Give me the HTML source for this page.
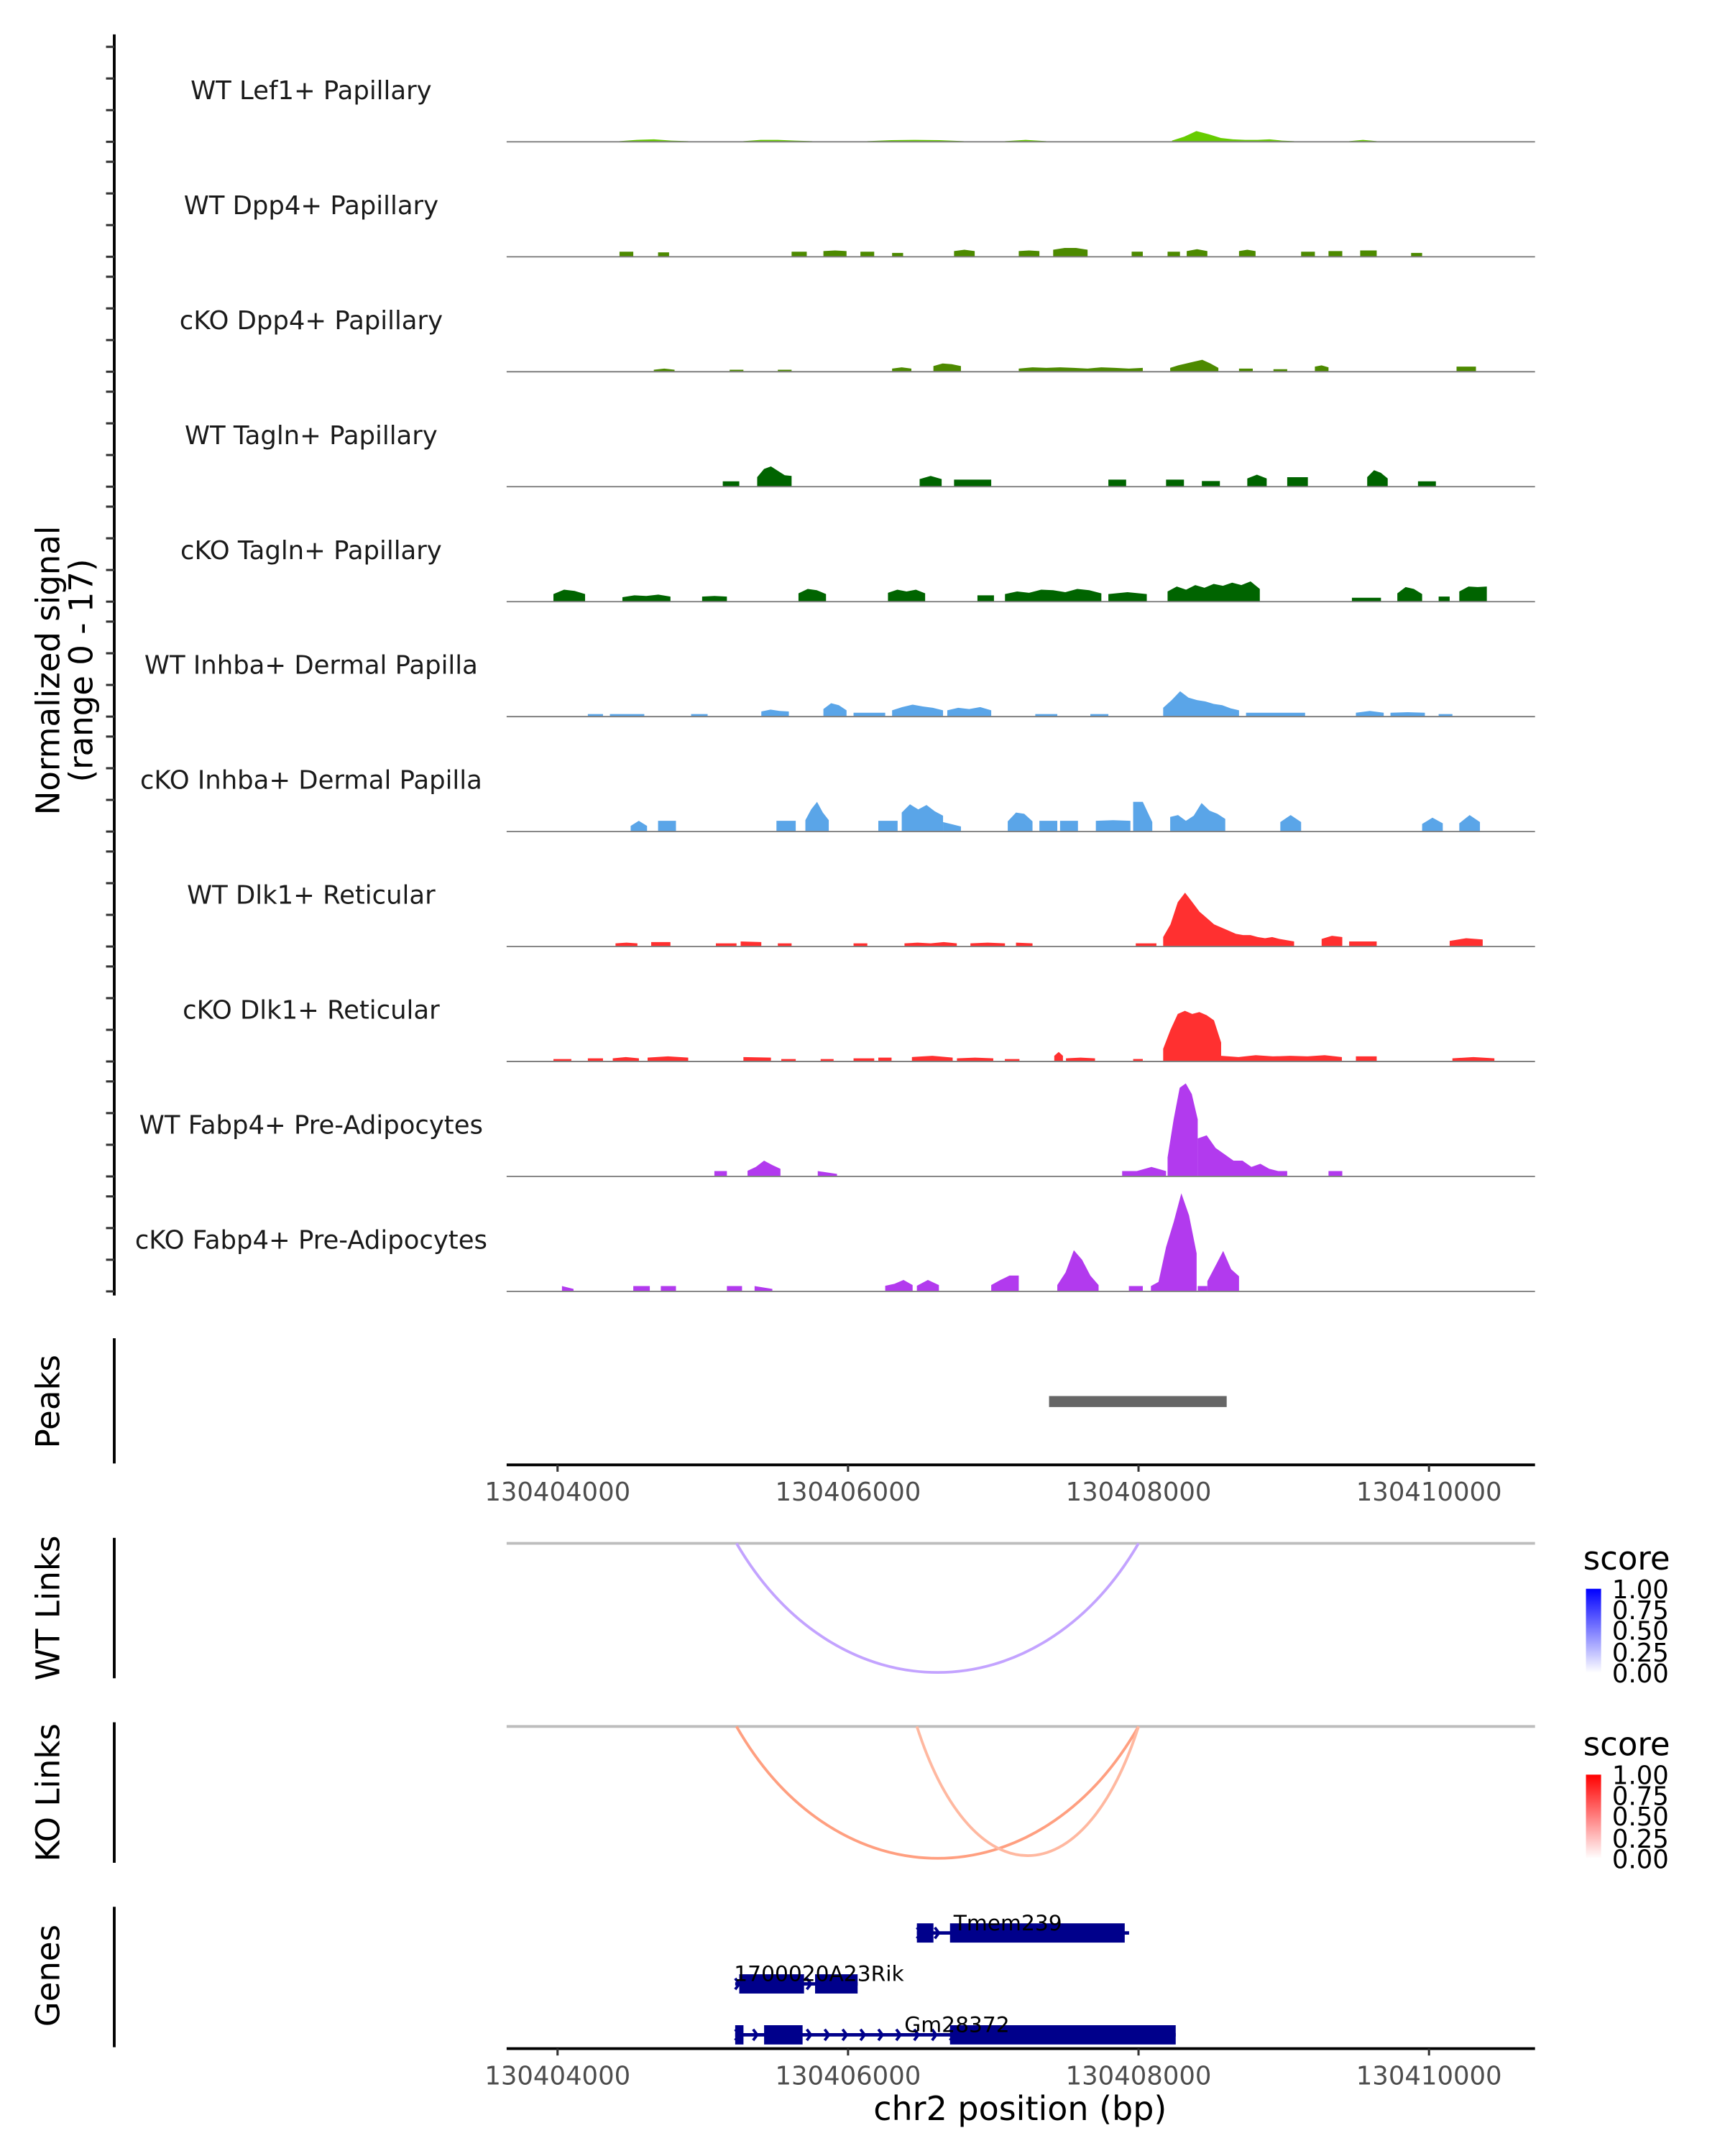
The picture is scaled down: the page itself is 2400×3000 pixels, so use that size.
<!DOCTYPE html>
<html><head><meta charset="utf-8"><style>
html,body{margin:0;padding:0;background:#fff;}
svg{display:block;font-family:"DejaVu Sans","Liberation Sans",sans-serif;}
</style></head><body>
<svg id="chart" xmlns="http://www.w3.org/2000/svg" width="2400" height="3000" viewBox="0 0 1253 1566" preserveAspectRatio="none">
<defs>
<linearGradient id="gBlue" x1="0" y1="1" x2="0" y2="0"><stop offset="0" stop-color="#ffffff"/><stop offset="1" stop-color="#0000ff"/></linearGradient>
<linearGradient id="gRed" x1="0" y1="1" x2="0" y2="0"><stop offset="0" stop-color="#ffffff"/><stop offset="1" stop-color="#ff0000"/></linearGradient>
</defs>
<g id="tracks"></g>
<line x1="83" y1="25" x2="83" y2="941" stroke="#000" stroke-width="2"/>
<g id="yticks"></g>
<text transform="translate(43,487) rotate(-90)" text-anchor="middle" font-size="23.5">Normalized signal</text>
<text transform="translate(67,487) rotate(-90)" text-anchor="middle" font-size="23.5">(range 0 - 17)</text>

<line x1="83" y1="972" x2="83" y2="1063" stroke="#000" stroke-width="2"/>
<text transform="translate(43,1018) rotate(-90)" text-anchor="middle" font-size="23.5">Peaks</text>
<g id="peaks"></g>
<g id="xaxis1"></g>

<line x1="83" y1="1117" x2="83" y2="1219" stroke="#000" stroke-width="2"/>
<text transform="translate(43,1168) rotate(-90)" text-anchor="middle" font-size="23.5">WT Links</text>
<line x1="368" y1="1121" x2="1115" y2="1121" stroke="#bdbdbd" stroke-width="2"/>
<g id="wtlinks"></g>

<line x1="83" y1="1251" x2="83" y2="1353" stroke="#000" stroke-width="2"/>
<text transform="translate(43,1302) rotate(-90)" text-anchor="middle" font-size="23.5">KO Links</text>
<line x1="368" y1="1254" x2="1115" y2="1254" stroke="#bdbdbd" stroke-width="2"/>
<g id="kolinks"></g>

<g>
<text x="1150" y="1140" font-size="23.5">score</text>
<rect x="1152" y="1154" width="11" height="61" fill="url(#gBlue)"/>
<g font-size="18.5" fill="#000">
<text x="1171" y="1161">1.00</text><text x="1171" y="1176">0.75</text><text x="1171" y="1191">0.50</text><text x="1171" y="1207">0.25</text><text x="1171" y="1222">0.00</text></g>
</g>
<g>
<text x="1150" y="1275" font-size="23.5">score</text>
<rect x="1152" y="1289" width="11" height="61" fill="url(#gRed)"/>
<g font-size="18.5" fill="#000">
<text x="1171" y="1296">1.00</text><text x="1171" y="1311">0.75</text><text x="1171" y="1326">0.50</text><text x="1171" y="1342">0.25</text><text x="1171" y="1357">0.00</text></g>
</g>

<line x1="83" y1="1385" x2="83" y2="1487" stroke="#000" stroke-width="2"/>
<text transform="translate(43,1435) rotate(-90)" text-anchor="middle" font-size="23.5">Genes</text>
<g id="genes"></g>
<g id="xaxis2"></g>
<text x="741" y="1540" text-anchor="middle" font-size="24">chr2 position (bp)</text>
</svg>
<script>
// positions are bp offsets from chr2:130,400,000 ; values in normalized signal units
const trackNames = ["WT Lef1+ Papillary","WT Dpp4+ Papillary","cKO Dpp4+ Papillary","WT Tagln+ Papillary","cKO Tagln+ Papillary","WT Inhba+ Dermal Papilla","cKO Inhba+ Dermal Papilla","WT Dlk1+ Reticular","cKO Dlk1+ Reticular","WT Fabp4+ Pre-Adipocytes","cKO Fabp4+ Pre-Adipocytes"];
const trackColors = ["#66cc00","#4d8a00","#4d8a00","#006400","#006400","#5aa5e8","#5aa5e8","#ff3030","#ff3030","#b23aee","#b23aee"];
const sigLef1 = [[4427,4900,[0.1,0.3,0.4,0.2,0.1]],[5280,5754,[0.1,0.3,0.3,0.2,0.1]],[6133,6796,[0.1,0.25,0.3,0.25,0.1]],[7081,7365,[0.1,0.3,0.1]],[8230,9071,[0.2,0.8,1.7,1.2,0.6,0.4,0.3,0.3,0.4,0.2,0.1]],[9450,9640,[0.1,0.3,0.1]]];
const sigWtDpp4 = [[4427,4521,[0.8,0.8]],[4692,4768,[0.7,0.7]],[5611,5716,[0.8,0.8]],[5830,5990,[0.9,1,0.9]],[6085,6180,[0.8,0.8]],[6303,6379,[0.6,0.6]],[6730,6872,[0.9,1.1,0.9]],[7175,7318,[0.9,1,0.9]],[7412,7649,[1.1,1.4,1.4,1.1]],[7953,8029,[0.8,0.8]],[8200,8285,[0.8,0.8]],[8332,8474,[0.9,1.2,0.9]],[8692,8806,[0.9,1.1,0.9]],[9119,9214,[0.8,0.8]],[9308,9403,[0.9,0.9]],[9526,9640,[1,1]],[9877,9953,[0.6,0.6]]];
const sigKoDpp4 = [[4663,4806,[0.3,0.5,0.3]],[5185,5280,[0.3,0.3]],[5517,5611,[0.3,0.3]],[6303,6436,[0.5,0.7,0.5]],[6588,6777,[0.9,1.3,1.2,0.9]],[7175,8029,[0.5,0.7,0.6,0.7,0.6,0.5,0.7,0.6,0.5,0.6]],[8218,8550,[0.6,1.0,1.3,1.6,1.9,1.3,0.6]],[8692,8787,[0.5,0.5]],[8929,9024,[0.4,0.4]],[9214,9308,[0.8,1.0,0.7]],[10190,10323,[0.8,0.8]]];
const sigWtTagln = [[5137,5251,[0.85,0.85]],[5374,5611,[1.5,2.8,3.2,2.5,1.8,1.7]],[6493,6645,[1.2,1.7,1.2]],[6730,6986,[1.1,1.1]],[7792,7915,[1.1,1.1]],[8190,8313,[1.1,1.1]],[8436,8560,[0.9,0.9]],[8749,8882,[1.3,1.9,1.3]],[9024,9166,[1.5,1.5]],[9574,9716,[1.5,2.6,2.2,1.3]],[9924,10047,[0.85,0.85]]];
const sigKoTagln = [[3972,4190,[1.2,1.9,1.7,1.2]],[4446,4777,[0.7,1.0,0.9,1.1,0.8]],[4995,5166,[0.8,0.9,0.8]],[5659,5848,[1.3,2.0,1.8,1.2]],[6275,6531,[1.4,1.9,1.6,1.9,1.3]],[6891,7005,[1.0,1.0]],[7081,7744,[1.2,1.6,1.4,1.9,1.8,1.5,2.0,1.8,1.3]],[7792,8057,[1.2,1.5,1.2]],[8200,8835,[1.6,2.4,1.9,2.6,2.2,2.8,2.5,3.0,2.6,3.2,2.0]],[9469,9669,[0.6,0.6]],[9782,9953,[1.3,2.3,2.0,1.2]],[10066,10142,[0.8,0.8]],[10209,10398,[1.6,2.4,2.3,2.4]]];
const sigWtInhba = [[4209,4313,[0.4,0.4]],[4360,4597,[0.4,0.4]],[4919,5033,[0.4,0.4]],[5403,5592,[0.8,1.1,0.9,0.8]],[5830,5990,[1.2,2.1,1.8,1.0]],[6038,6256,[0.6,0.6]],[6303,6654,[1.0,1.5,1.9,1.6,1.4,1.0]],[6683,6986,[1.0,1.4,1.2,1.5,1.0]],[7289,7441,[0.4,0.4]],[7668,7792,[0.4,0.4]],[8170,8692,[1.4,2.6,4.0,3.0,2.6,2.4,2.0,1.8,1.3,1.0]],[8740,9147,[0.6,0.6,0.6]],[9497,9688,[0.6,0.9,0.6]],[9735,9972,[0.6,0.7,0.6]],[10066,10161,[0.4,0.4]]];
const sigKoInhba = [[4503,4616,[0.9,1.7,0.9]],[4692,4815,[1.7,1.7]],[5507,5640,[1.7,1.7]],[5706,5867,[1.8,3.5,4.7,3.0,1.8]],[6209,6341,[1.7,1.7]],[6370,6654,[3.0,4.3,3.5,4.2,3.2,2.5]],[6654,6777,[1.5,0.8]],[7100,7270,[1.6,3.0,2.8,1.6]],[7318,7441,[1.7,1.7]],[7460,7583,[1.7,1.7]],[7706,7944,[1.7,1.8,1.7]],[7963,8095,[4.7,4.7,1.5]],[8218,8597,[2.3,2.6,1.7,2.5,4.5,3.3,2.8,2.0]],[8976,9119,[1.5,2.6,1.5]],[9953,10095,[1.2,2.2,1.3]],[10209,10351,[1.3,2.6,1.5]]];
const sigWtDlk1 = [[4399,4550,[0.5,0.6,0.5]],[4645,4777,[0.7,0.7]],[5090,5232,[0.5,0.5]],[5261,5403,[0.8,0.7]],[5517,5611,[0.5,0.5]],[6038,6133,[0.5,0.5]],[6389,6749,[0.5,0.6,0.5,0.7,0.5]],[6843,7081,[0.5,0.6,0.5]],[7156,7270,[0.6,0.5]],[7981,8123,[0.5,0.5]],[8170,9071,[1.5,3.5,7,8.5,7,5.5,4.5,3.5,3,2.5,2,1.8,1.8,1.5,1.3,1.5,1.2,1,0.8]],[9261,9403,[1.2,1.7,1.5]],[9450,9640,[0.8,0.8]],[10142,10370,[0.9,1.3,1.1]]];
const sigKoDlk1 = [[3972,4095,[0.4,0.4]],[4209,4313,[0.5,0.5]],[4380,4560,[0.5,0.7,0.5]],[4620,4900,[0.6,0.8,0.6]],[5280,5469,[0.7,0.6]],[5540,5640,[0.4,0.4]],[5811,5900,[0.4,0.4]],[6038,6180,[0.5,0.5]],[6209,6300,[0.6,0.6]],[6440,6720,[0.7,0.9,0.6]],[6750,7000,[0.5,0.6,0.5]],[7080,7180,[0.4,0.4]],[7420,7480,[0.9,1.5,0.9]],[7500,7700,[0.5,0.6,0.5]],[7963,8029,[0.4,0.4]],[8170,8569,[2,5,7.5,8,7.5,7.8,7.3,6.5,3]],[8569,9400,[0.9,0.7,1.0,0.8,0.9,0.8,1.0,0.7]],[9497,9640,[0.8,0.8]],[10161,10450,[0.5,0.7,0.5]]];
const sigWtFabp4 = [[5080,5166,[0.85,0.85]],[5308,5535,[0.9,1.5,2.5,1.8,1.2]],[5791,5924,[0.85,0.4]],[7887,8190,[0.85,0.85,1.5,0.85]],[8200,8408,[3,9,14,14.7,13,9]],[8408,9024,[6,6.5,4.5,3.5,2.5,2.5,1.5,2,1.2,0.85,0.85]],[9308,9403,[0.85,0.85]]];
const sigKoFabp4 = [[4030,4110,[0.85,0.4]],[4521,4635,[0.85,0.85]],[4711,4815,[0.85,0.85]],[5166,5270,[0.85,0.85]],[5356,5479,[0.85,0.4]],[6256,6445,[0.9,1.2,1.8,1.0]],[6474,6626,[0.9,1.8,1.0]],[6986,7175,[1.0,1.8,2.5,2.5]],[7441,7725,[1.0,3.0,6.5,5.0,2.5,1.0]],[7934,8029,[0.85,0.85]],[8085,8400,[0.85,1.5,7,11,15.5,12,6]],[8408,8474,[0.85,0.85]],[8474,8692,[1.6,4,6.4,3.5,2.4]]];
const signals = [sigLef1,sigWtDpp4,sigKoDpp4,sigWtTagln,sigKoTagln,sigWtInhba,sigKoInhba,sigWtDlk1,sigKoDlk1,sigWtFabp4,sigKoFabp4];
const yTickValues = [0,5,10,15];
const xTickValues = [4000,6000,8000,10000];
const xTickLabels = ["130404000","130406000","130408000","130410000"];
const peakRegions = [[7384,8607]];
const wtLinks = [[5232,8000,0.45]];
const koLinks = [[5232,8000,0.5],[6474,8000,0.4]];
const geneNames = ["Tmem239","1700020A23Rik","Gm28372"];
const geneSpans = [[6474,7935],[5223,6066],[5223,8256]];
const geneExons = [[[6474,6588],[6702,7905]],[[5251,5697],[5773,6066]],[[5223,5280],[5422,5687],[6702,8256]]];
const geneLabelPos = [7100,5800,6750];

const NS="http://www.w3.org/2000/svg";
function mk(tag,attrs,parent){const e=document.createElementNS(NS,tag);for(const k in attrs)e.setAttribute(k,attrs[k]);parent.appendChild(e);return e;}
const X0=368,X1=1115;
function xs(bp){return 405+(bp-4000)*211/2000;}
const PXU=4.6, base0=103, spacing=83.5;
function ys(t,v){return base0+t*spacing - v*PXU;}

const gT=document.getElementById('tracks');
const gY=document.getElementById('yticks');
signals.forEach((sig,t)=>{
  const base=ys(t,0);
  const g=mk('g',{},gT);
  
  
  const lab=mk('text',{x:226,y:base-31,'text-anchor':'middle','font-size':'18.5',fill:'#1a1a1a'},g);
  lab.textContent=trackNames[t];
  
  
  sig.forEach(isl=>{
    const [s,e,vals]=isl; const n=vals.length;
    let pts=[[xs(s),base]];
    vals.forEach((v,i)=>{const p=s+(e-s)*i/(n-1);pts.push([xs(p),ys(t,v)]);});
    pts.push([xs(e),base]);
    const poly=mk('polygon',{points:pts.map(p=>p[0].toFixed(1)+','+p[1].toFixed(1)).join(' '),fill:trackColors[t]},g);
    
    
  });
  const bl=mk('line',{x1:X0,y1:base,x2:X1,y2:base,stroke:'#7f7f7f','stroke-width':1},g);
  
  
  yTickValues.forEach(v=>{
    const tk=mk('line',{x1:77,x2:83,y1:ys(t,v),y2:ys(t,v),stroke:'#333','stroke-width':1.6},gY);
    
    
  });
});

const gP=document.getElementById('peaks');
peakRegions.forEach(p=>{
  const r=mk('rect',{x:xs(p[0]),y:1014,width:xs(p[1])-xs(p[0]),height:8,fill:'#666'},gP);
  
  
});

function xaxis(id,y){
  const g=document.getElementById(id);
  const l=mk('line',{x1:X0,y1:y,x2:X1,y2:y,stroke:'#000','stroke-width':2},g);
  
  
  xTickValues.forEach((v,i)=>{
    const tk=mk('line',{x1:xs(v),x2:xs(v),y1:y,y2:y+5,stroke:'#333','stroke-width':1.6},g);
    
    
    const tx=mk('text',{x:xs(v),y:y+26,'text-anchor':'middle','font-size':'18.5',fill:'#4d4d4d'},g);
    tx.textContent=xTickLabels[i];
    
    
  });
}
xaxis('xaxis1',1064);
xaxis('xaxis2',1488);

function links(id,arr,y0,depth,colorFn){
  const g=document.getElementById(id);
  arr.forEach(l=>{
    const a=xs(l[0]),b=xs(l[1]);
    const d=depth*(b-a)/(xs(8000)-xs(5232));
    const dd=Math.max(d,depth*0.98);
    const p=mk('path',{d:`M${a},${y0} C${a+(b-a)*0.25},${y0+dd*1.33} ${b-(b-a)*0.25},${y0+dd*1.33} ${b},${y0}`,fill:'none',stroke:colorFn(l[2]),'stroke-width':2},g);
    
    
  });
}
links('wtlinks',wtLinks,1121,94,s=>'#c3a3ff');
links('kolinks',koLinks,1254,96,s=>s>0.45?'#ff9f80':'#ffb8a0');

const gG=document.getElementById('genes');
const rowY=[1404,1441,1478];
geneNames.forEach((nm,i)=>{
  const y=rowY[i];
  const g=mk('g',{},gG);
  
  
  mk('line',{x1:xs(geneSpans[i][0]),x2:xs(geneSpans[i][1]),y1:y,y2:y,stroke:'#00008b','stroke-width':2.5},g);
  const a=xs(geneSpans[i][0]),b=xs(geneExons[i][geneExons[i].length-1][0]);
  for(let x=a;x<b;x+=13){mk('path',{d:`M${x},${y-4} L${x+3},${y} L${x},${y+4}`,fill:'none',stroke:'#00008b','stroke-width':2},g);}
  geneExons[i].forEach(ex=>{
    const r=mk('rect',{x:xs(ex[0]),y:y-7,width:xs(ex[1])-xs(ex[0]),height:14,fill:'#00008b'},g);
    
    
  });
  const t=mk('text',{x:xs(geneLabelPos[i]),y:y-2,'text-anchor':'middle','font-size':'15.5',fill:'#000'},g);
  t.textContent=nm;
  
  
});
</script>
</body></html>
